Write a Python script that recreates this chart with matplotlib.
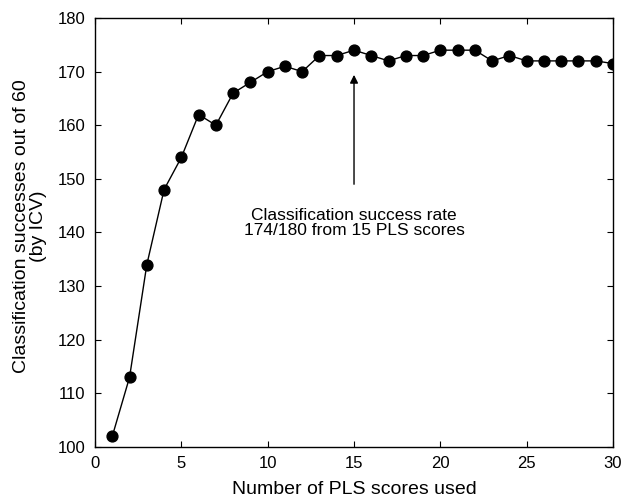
import matplotlib
matplotlib.use("Agg")
import matplotlib.pyplot as plt

plt.rcParams['font.family'] = ['Liberation Sans', 'DejaVu Sans']

n_scores = list(range(1, 31))
successes = [102, 113, 134, 148, 154, 162, 160, 166, 168, 170,
             171, 170, 173, 173, 174, 173, 172, 173, 173, 174,
             174, 174, 172, 173, 172, 172, 172, 172, 172, 171.5]
xticks = [0, 5, 10, 15, 20, 25, 30]
yticks = [100, 110, 120, 130, 140, 150, 160, 170, 180]

fig = plt.figure(figsize=(6.23, 5.0), dpi=100)
ax = fig.add_axes([0.1525, 0.106, 0.8315, 0.858])

ax.plot(n_scores, successes, color='black', linewidth=1.0,
        marker='o', markersize=7.8, markerfacecolor='black',
        markeredgecolor='black', clip_on=True)

ax.set_xlim(0, 30)
ax.set_ylim(100, 180)
ax.set_xticks(xticks)
ax.set_yticks(yticks)
ax.tick_params(direction='in', length=4, labelsize=12, width=0.8,
               top=True, right=True)
ax.tick_params(axis='x', pad=6.5)
ax.tick_params(axis='y', pad=7)
for s in ax.spines.values():
    s.set_linewidth(1.0)

ax.set_xlabel('Number of PLS scores used', fontsize=14, labelpad=7)
ax.set_ylabel('Classification successes out of 60\n(by ICV)', fontsize=14,
              linespacing=1.0)
ax.yaxis.set_label_coords(-0.092, 0.515)

ax.annotate('', xy=(15, 169.4), xytext=(15, 149),
            arrowprops=dict(arrowstyle='-|>', color='black', lw=1.0,
                            mutation_scale=12, shrinkA=0, shrinkB=0))
ax.text(15, 141.8, 'Classification success rate\n174/180 from 15 PLS scores',
        ha='center', va='center', fontsize=12.5, linespacing=1.05)

fig.savefig('out.png', dpi=100)
